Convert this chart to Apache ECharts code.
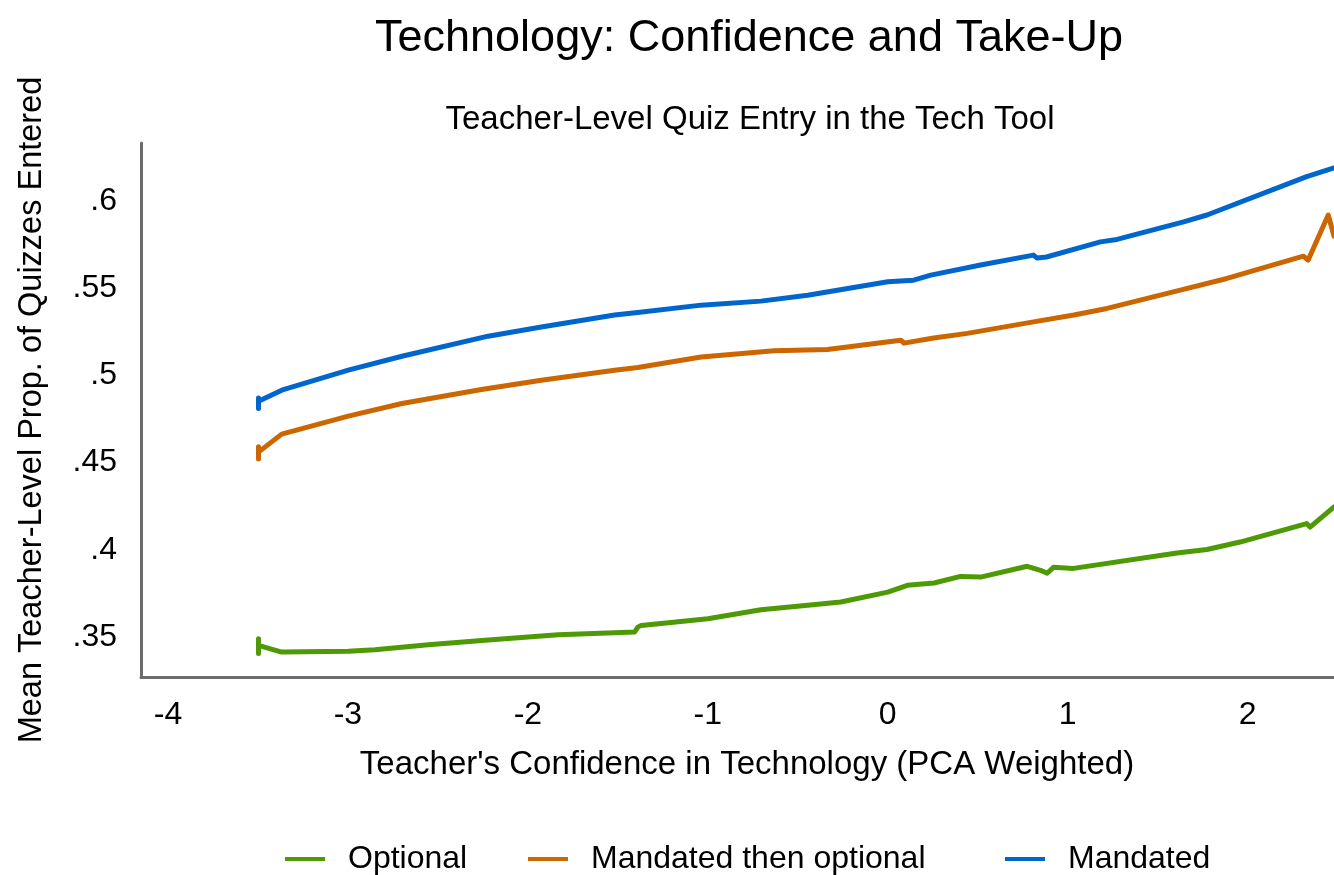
<!DOCTYPE html>
<html>
<head>
<meta charset="utf-8">
<script src="https://cdn.jsdelivr.net/npm/echarts@6/dist/echarts.min.js"></script>
<style>html,body{margin:0;padding:0;background:#fff;}#c{width:1334px;height:875px;}</style>
</head>
<body>
<div id="c"></div>
<script>
// ---- data ----
var xTicks = [-4, -3, -2, -1, 0, 1, 2];
var yTicks = [0.35, 0.4, 0.45, 0.5, 0.55, 0.6];

var optionalX = [-3.497, -3.497, -3.497, -3.368, -2.998, -2.85, -2.554, -2.202, -1.832, -1.518, -1.407, -1.389, -1.37, -1.0, -0.705, -0.445, -0.261, 0.0, 0.109, 0.257, 0.405, 0.516, 0.775, 0.849, 0.886, 0.921, 1.032, 1.607, 1.774, 1.958, 2.328, 2.347, 2.48];
var optionalY = [0.3405, 0.349, 0.3451, 0.3413, 0.3418, 0.3426, 0.3455, 0.3484, 0.3513, 0.3524, 0.3528, 0.3556, 0.3566, 0.3604, 0.3656, 0.3681, 0.3700, 0.3757, 0.3796, 0.3809, 0.3847, 0.3843, 0.3905, 0.3882, 0.3865, 0.3899, 0.3893, 0.3981, 0.4001, 0.4044, 0.4150, 0.4130, 0.4245];

var mtoX = [-3.497, -3.497, -3.497, -3.368, -2.998, -2.70, -2.258, -1.925, -1.518, -1.389, -1.037, -0.631, -0.335, 0.072, 0.09, 0.255, 0.442, 0.81, 1.034, 1.219, 1.626, 1.885, 2.31, 2.336, 2.448, 2.48];
var mtoY = [0.452, 0.459, 0.456, 0.4663, 0.4766, 0.4839, 0.4919, 0.4972, 0.5030, 0.5045, 0.5106, 0.5141, 0.5149, 0.5202, 0.5185, 0.5214, 0.5241, 0.5307, 0.5346, 0.5384, 0.5489, 0.5556, 0.5684, 0.5661, 0.5920, 0.5799];

var mandatedX = [-3.497, -3.497, -3.497, -3.368, -2.998, -2.70, -2.221, -1.925, -1.518, -1.389, -1.037, -0.705, -0.445, 0.0, 0.144, 0.239, 0.516, 0.81, 0.83, 0.882, 1.182, 1.274, 1.644, 1.774, 2.328, 2.48];
var mandatedY = [0.481, 0.487, 0.4852, 0.4915, 0.5030, 0.5110, 0.5225, 0.5278, 0.5346, 0.5361, 0.5403, 0.5426, 0.5460, 0.5537, 0.5546, 0.5575, 0.5633, 0.5690, 0.5673, 0.5679, 0.5766, 0.5780, 0.5881, 0.5920, 0.6140, 0.6190];

var seriesNames = ['Optional', 'Mandated then optional', 'Mandated'];
var seriesColors = ['#4e9a06', '#cc6600', '#0066cc'];

function pairs(xs, ys) { return xs.map(function (x, i) { return [x, ys[i]]; }); }

var chart = echarts.init(document.getElementById('c'), null, { renderer: 'canvas' });
var font = '"Liberation Sans", Arial, Helvetica, sans-serif';
var dataSets = [pairs(optionalX, optionalY), pairs(mtoX, mtoY), pairs(mandatedX, mandatedY)];
var legendLefts = [285, 528, 1005];

chart.setOption({
  backgroundColor: '#fff',
  animation: false,
  textStyle: { fontFamily: font },
  title: [
    { text: 'Technology: Confidence and Take-Up', left: 744, top: 11, textAlign: 'center',
      textStyle: { fontFamily: font, fontSize: 45, fontWeight: 'normal', color: '#000' } },
    { text: 'Teacher-Level Quiz Entry in the Tech Tool', left: 745, top: 98, textAlign: 'center',
      textStyle: { fontFamily: font, fontSize: 33, fontWeight: 'normal', color: '#000' } }
  ],
  legend: seriesNames.map(function (n, i) {
    return {
      data: [n], left: legendLefts[i], top: 843, padding: 0, icon: 'rect', itemWidth: 40, itemHeight: 4,
      textStyle: { fontFamily: font, fontSize: 32, color: '#000', padding: [0, 0, 0, 18] },
      selectedMode: false
    };
  }),
  grid: { left: 141, right: 0, top: 143, bottom: 198, containLabel: false, outerBoundsMode: 'none' },
  xAxis: {
    type: 'value', min: -4.15, max: 2.48,
    name: "Teacher's Confidence in Technology (PCA Weighted)",
    nameLocation: 'middle', nameGap: 71,
    nameTextStyle: { fontFamily: font, fontSize: 33, color: '#000', padding: [0, 0, 0, 19] },
    axisLine: { show: true, onZero: false, lineStyle: { color: '#6b6b6b', width: 3 } },
    axisTick: { show: false },
    splitLine: { show: false },
    axisLabel: { customValues: xTicks, margin: 22, fontFamily: font, fontSize: 32, color: '#000',
      formatter: function (v) { return String(v); } }
  },
  yAxis: {
    type: 'value', min: 0.327, max: 0.6333,
    name: 'Mean Teacher-Level Prop. of Quizzes Entered',
    nameLocation: 'middle', nameGap: 92, nameRotate: 90,
    nameTextStyle: { fontFamily: font, fontSize: 32.5, color: '#000' },
    axisLine: { show: true, onZero: false, lineStyle: { color: '#6b6b6b', width: 3 } },
    axisTick: { show: false },
    splitLine: { show: false },
    axisLabel: { customValues: yTicks, margin: 24, fontFamily: font, fontSize: 32, color: '#000',
      formatter: function (v) { return (+v).toFixed(2).replace(/0+$/, '').replace(/^0/, ''); } }
  },
  series: seriesNames.map(function (n, i) {
    return {
      name: n, type: 'line', data: dataSets[i], showSymbol: false, symbol: 'none',
      lineStyle: { color: seriesColors[i], width: 5, join: 'round', cap: 'round' },
      itemStyle: { color: seriesColors[i] },
      clip: false
    };
  })
});
</script>
</body>
</html>
